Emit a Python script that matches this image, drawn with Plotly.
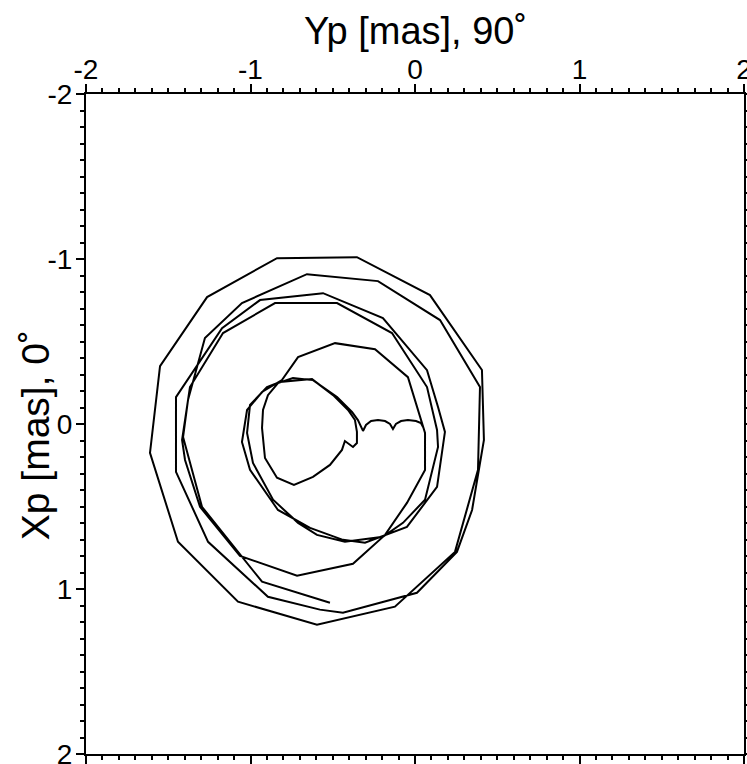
import plotly.graph_objects as go

# Pole path, Yp (horizontal) and Xp (vertical, increasing downwards), in mas.
# Short diurnal wiggles at the start
yp_start = [0.049, 0.036, 0.006, -0.043, -0.085, -0.116, -0.134, -0.152, -0.182, -0.225, -0.267, -0.298, -0.316]
xp_start = [0.018, -0.006, -0.018, -0.024, -0.018, 0.000, 0.030, 0.000, -0.018, -0.024, -0.018, 0.006, 0.042]

# Inner loop
yp_inner = [-0.347, -0.383, -0.474, -0.620, -0.742, -0.833, -0.894, -0.924, -0.930,
            -0.912, -0.839, -0.736, -0.620, -0.517, -0.444, -0.426, -0.377, -0.353, -0.353,
            -0.365, -0.407, -0.498, -0.626, -0.821]
xp_inner = [-0.024, -0.073, -0.163, -0.266, -0.278, -0.248, -0.175, -0.085, 0.024,
            0.206, 0.326, 0.369, 0.320, 0.248, 0.157, 0.103, 0.139, 0.115, 0.048,
            -0.024, -0.085, -0.175, -0.272, -0.254]

# Middle turns
yp_mid = [-0.900, -1.003, -1.021, -0.985, -0.863, -0.711, -0.596, -0.426, -0.195, -0.073, 0.061, 0.140, 0.134,
          0.073, -0.140, -0.474, -0.851, -1.167, -1.368, -1.416, -1.398, -1.307, -1.064, -0.717, -0.377,
          -0.182, -0.049, 0.061, 0.061, -0.043, -0.243, -0.486, -0.711, -0.809,
          -0.930, -1.021, -1.052, -1.003, -0.833, -0.638, -0.438, -0.304, -0.152, -0.049, 0.134, 0.182,
          0.140, 0.073, -0.195, -0.559, -0.942, -1.173]
xp_mid = [-0.224, -0.115, 0.054, 0.236, 0.459, 0.599, 0.672, 0.714, 0.684, 0.599, 0.459, 0.139, 0.036,
          -0.224, -0.551, -0.733, -0.733, -0.551, -0.224, 0.097, 0.218, 0.502, 0.799, 0.920, 0.847,
          0.672, 0.478, 0.278, 0.054, -0.284, -0.453, -0.490, -0.405, -0.266,
          -0.194, -0.085, 0.109, 0.278, 0.521, 0.630, 0.702, 0.720, 0.660, 0.624, 0.381, 0.048,
          -0.103, -0.326, -0.642, -0.793, -0.751, -0.581]

# Outer turns, ending at the last epoch
yp_outer = [-1.453, -1.453, -1.258, -0.894, -0.578, -0.438, 0.012, 0.255, 0.347, 0.419, 0.407, 0.091,
            -0.353, -0.839, -1.264, -1.550, -1.611, -1.441, -1.076, -0.596, -0.122, 0.243, 0.383, 0.395,
            0.152, -0.225, -0.657, -1.052, -1.277, -1.380, -1.410, -1.295, -0.930, -0.517]
xp_outer = [-0.163, 0.290, 0.714, 1.047, 1.125, 1.144, 1.023, 0.775, 0.521, 0.097, -0.327, -0.781,
            -1.011, -1.005, -0.769, -0.351, 0.175, 0.714, 1.077, 1.216, 1.107, 0.775, 0.278, -0.224,
            -0.630, -0.866, -0.908, -0.733, -0.521, -0.145, 0.079, 0.502, 0.956, 1.083]

yp = yp_start + yp_inner + yp_mid + yp_outer
xp = xp_start + xp_inner + xp_mid + xp_outer

fig = go.Figure(go.Scatter(x=yp, y=xp, mode="lines",
                           line=dict(color="black", width=2), hoverinfo="skip"))

font_family = "Liberation Sans, Arial, sans-serif"
tick_font = dict(family=font_family, size=28, color="black")

axis_common = dict(
    showgrid=False, zeroline=False, automargin=False,
    showline=True, linecolor="black", linewidth=2,
    mirror="allticks", ticks="outside", ticklen=8, tickwidth=2, tickcolor="black",
    tickmode="array", tickvals=[-2, -1, 0, 1, 2], ticktext=["-2", "-1", "0", "1", "2"],
    tickfont=tick_font, ticklabeloverflow="allow",
    minor=dict(dtick=0.1, ticks="outside", ticklen=4, tickwidth=1.5, tickcolor="black"),
)

fig.update_layout(
    width=747, height=764,
    margin=dict(l=86, r=3, t=94, b=10),
    paper_bgcolor="white", plot_bgcolor="white",
    showlegend=False,
    xaxis=dict(axis_common, range=[-2, 2], side="top", ticklabelstandoff=-6),
    yaxis=dict(axis_common, range=[2, -2], ticklabelstandoff=-2),
    annotations=[
        dict(text="Yp [mas], 90˚", xref="paper", yref="paper", x=0.5, y=1.0955,
             xanchor="center", yanchor="middle", showarrow=False,
             font=dict(family=font_family, size=38, color="black")),
        dict(text="Xp [mas], 0˚", xref="paper", yref="paper", x=-0.0775, y=0.483,
             xanchor="center", yanchor="middle", textangle=-90, showarrow=False,
             font=dict(family=font_family, size=39, color="black")),
    ],
)

fig.write_html("out.html")
